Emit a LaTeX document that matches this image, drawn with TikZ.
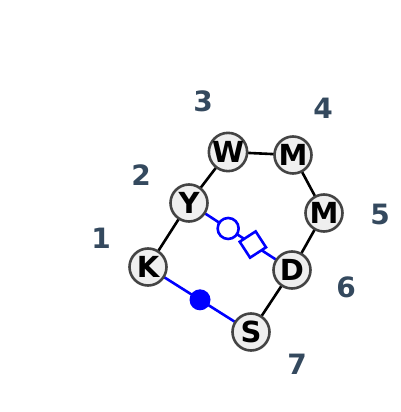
\documentclass[tikz,border=0pt]{standalone}
\usepackage{fontspec}
\setmainfont{DejaVu Sans}
\usetikzlibrary{calc}
\definecolor{nodefill}{HTML}{EFEFEF}
\definecolor{nodeline}{HTML}{444444}
\definecolor{lblcol}{HTML}{34495E}
\definecolor{bl}{HTML}{0000FF}
\tikzset{
  vtx/.style={circle, draw=nodeline, fill=nodefill, line width=2.6pt, minimum size=37pt, inner sep=0pt, font=\fontsize{29}{29}\selectfont\bfseries, text=black},
  lbl/.style={font=\fontsize{28}{28}\selectfont\bfseries, text=lblcol, inner sep=0pt},
  edge/.style={line width=2.6pt, black},
  bedge/.style={line width=2.6pt, bl},
  ocirc/.style={circle, draw=bl, fill=white, line width=2.6pt, minimum size=21pt, inner sep=0pt},
  osq/.style={rectangle, draw=bl, fill=white, line width=2.6pt, minimum size=19pt, inner sep=0pt, rotate=33},
  fcirc/.style={circle, fill=bl, minimum size=21pt, inner sep=0pt}
}
\begin{document}
\begin{tikzpicture}[x=1pt,y=-1pt]
\useasboundingbox (0,0) rectangle (400,412);
% node positions
\coordinate (pK) at (148,267);
\coordinate (pY) at (189,203);
\coordinate (pW) at (228,152);
\coordinate (pM1) at (293,155);
\coordinate (pM2) at (324,213);
\coordinate (pD) at (292,270);
\coordinate (pS) at (251,332);
% edges
\draw[edge] (pK) -- (pY);
\draw[edge] (pY) -- (pW);
\draw[edge] (pW) -- (pM1);
\draw[edge] (pM1) -- (pM2);
\draw[edge] (pM2) -- (pD);
\draw[edge] (pD) -- (pS);
\draw[bedge] (pY) -- (pD);
\draw[bedge] (pK) -- (pS);
% markers
\node[ocirc] (c1) at ($(pY)!0.38!(pD)$) {};
\node[osq] (q1) at ($(pY)!0.62!(pD)$) {};
\node[fcirc] (f1) at ($(pK)!0.505!(pS)$) {};
% nodes
\node[vtx] (W) at (pW) {W};
\node[vtx] (M1) at (pM1) {M};
\node[vtx] (M2) at (pM2) {M};
\node[vtx] (D) at (pD) {D};
\node[vtx] (S) at (pS) {S};
\node[vtx] (K) at (pK) {K};
\node[vtx] (Y) at (pY) {Y};
% labels
\node[lbl] (l1) at (101,238) {1};
\node[lbl] (l2) at (141,175) {2};
\node[lbl] (l3) at (203,101) {3};
\node[lbl] (l4) at (323,108) {4};
\node[lbl] (l5) at (380,214) {5};
\node[lbl] (l6) at (346,287) {6};
\node[lbl] (l7) at (297,364) {7};
\end{tikzpicture}
\end{document}
